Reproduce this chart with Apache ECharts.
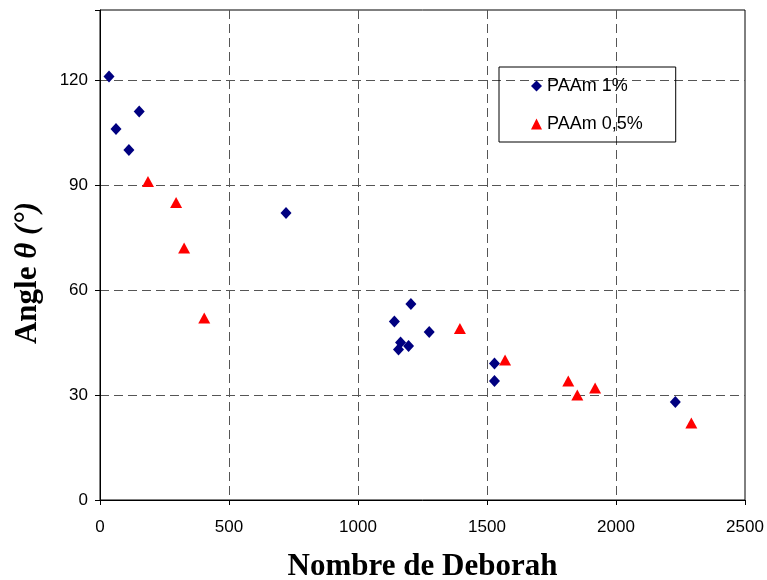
<!DOCTYPE html>
<html>
<head>
<meta charset="utf-8">
<script src="https://cdn.jsdelivr.net/npm/echarts@6/dist/echarts.min.js"></script>
<style>
  html, body { margin: 0; padding: 0; background: #fff; }
  #main { width: 767px; height: 580px; }
</style>
</head>
<body>
<div id="main"></div>
<script>
// valeurs (Nombre de Deborah, angle en degrés)
const paam1 = [
  [35, 121], [62, 106], [112, 100], [152, 111], [721, 82],
  [1141, 51], [1205, 56], [1165, 45], [1157, 43], [1196, 44],
  [1276, 48], [1529, 39], [1529, 34], [2230, 28]
];
const paam05 = [
  [186, 91], [295, 85], [326, 72], [404, 52], [1395, 49],
  [1570, 40], [1815, 34], [1850, 30], [1919, 32], [2292, 22]
];
const yTicks = [0, 30, 60, 90, 120];

let chart = echarts.init(document.getElementById('main'));

const gridLine = { show: true, showMinLine: false, showMaxLine: false,
  lineStyle: { color: '#555', type: [9, 5], width: 1 } };

chart.setOption({
  animation: false,
  grid: { left: 100, right: 22, top: 10, bottom: 80, show: true,
    outerBoundsMode: 'none', containLabel: false,
    borderColor: '#000', borderWidth: 1, backgroundColor: 'transparent' },
  legend: {
    orient: 'vertical',
    left: 499, top: 67,
    padding: [10, 33, 9, 32],
    itemGap: 20,
    itemWidth: 11, itemHeight: 11,
    borderColor: '#000', borderWidth: 1,
    textStyle: { fontFamily: 'Liberation Sans', fontSize: 18, color: '#000' },
    data: ['PAAm 1%', 'PAAm 0,5%']
  },
  xAxis: {
    type: 'value', min: 0, max: 2500, interval: 500,
    name: 'Nombre de Deborah', nameLocation: 'middle', nameGap: 51,
    nameTextStyle: { fontFamily: 'Liberation Serif', fontWeight: 'bold', fontSize: 31, color: '#000' },
    axisLine: { lineStyle: { color: '#000', width: 1 } },
    axisTick: { show: true, length: 5, lineStyle: { color: '#000' } },
    axisLabel: { margin: 19, fontFamily: 'Liberation Sans', fontSize: 17, color: '#000',
      formatter: v => String(v) },
    splitLine: gridLine
  },
  yAxis: {
    type: 'value', min: 0, max: 140, interval: 30,
    name: '{a|Angle }{t|θ (°)}', nameLocation: 'middle', nameGap: 57,
    nameTextStyle: {
      padding: [0, 36, 0, 0],
      rich: {
        a: { fontFamily: 'Liberation Serif', fontWeight: 'bold', fontSize: 31, color: '#000' },
        t: { fontFamily: 'Liberation Serif', fontWeight: 'bold', fontStyle: 'italic', fontSize: 31, color: '#000' }
      }
    },
    axisLine: { show: true, lineStyle: { color: '#000', width: 1 } },
    axisTick: { show: true, length: 5, lineStyle: { color: '#000' } },
    axisLabel: { margin: 12, fontFamily: 'Liberation Sans', fontSize: 17, color: '#000',
      formatter: v => (yTicks.indexOf(v) >= 0 ? String(v) : '') },
    splitLine: gridLine
  },
  series: [
    {
      name: 'PAAm 1%', type: 'scatter', data: paam1,
      symbol: 'diamond', symbolSize: [11, 12],
      itemStyle: { color: '#000080', opacity: 1 }
    },
    {
      name: 'PAAm 0,5%', type: 'scatter', data: paam05,
      symbol: 'triangle', symbolSize: [12, 11],
      itemStyle: { color: '#ff0000', opacity: 1 }
    }
  ]
});
</script>
</body>
</html>
